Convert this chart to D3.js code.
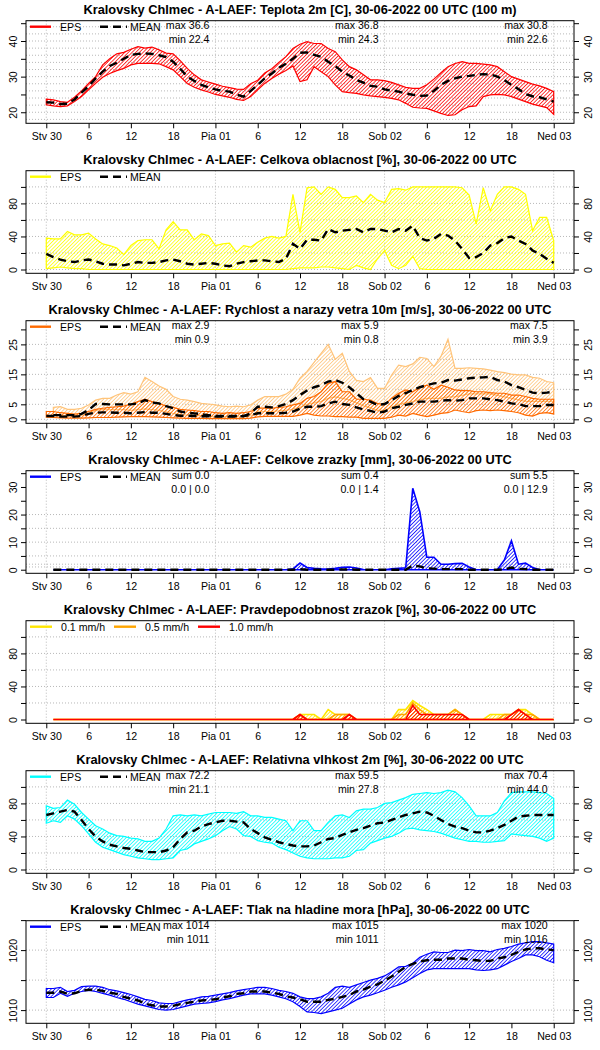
<!DOCTYPE html>
<html>
  <head>
    <meta charset="utf-8">
    <title>Kralovsky Chlmec - A-LAEF</title>
    <script src="https://cdn.jsdelivr.net/npm/d3@7"></script>
    <style>
      body { margin: 0; background: #fff; }
      svg { display: block; font-family: "Liberation Sans", Arial, Helvetica, sans-serif; }
      .title { font-weight: bold; font-size: 12.8px; }
      .lab { font-size: 10.6px; }
      .grid line { stroke: #b8b8b8; stroke-width: 1; stroke-dasharray: 1,2; }
    </style>
  </head>
  <body>
    <svg id="chart" width="600" height="1050"></svg>
    <script>
      // time axis (hours from run start 30-06-2022 00 UTC)
      const hours = d3.range(0, 73);
      const hoursAcc = d3.range(1, 73);
      const tickHours = [0, 6, 12, 18, 24, 30, 36, 42, 48, 54, 60, 66, 72];
      const tickLabels = ["Stv 30", "6", "12", "18", "Pia 01", "6", "12", "18", "Sob 02", "6", "12", "18", "Ned 03"];
      const dayHours = [0, 24, 48, 72];
      const statHours = [24, 48, 72];

      const titles = [
        "Kralovsky Chlmec - A-LAEF: Teplota 2m [C], 30-06-2022 00 UTC (100 m)",
        "Kralovsky Chlmec - A-LAEF: Celkova oblacnost [%], 30-06-2022 00 UTC",
        "Kralovsky Chlmec - A-LAEF: Rychlost a narazy vetra 10m [m/s], 30-06-2022 00 UTC",
        "Kralovsky Chlmec - A-LAEF: Celkove zrazky [mm], 30-06-2022 00 UTC",
        "Kralovsky Chlmec - A-LAEF: Pravdepodobnost zrazok [%], 30-06-2022 00 UTC",
        "Kralovsky Chlmec - A-LAEF: Relativna vlhkost 2m [%], 30-06-2022 00 UTC",
        "Kralovsky Chlmec - A-LAEF: Tlak na hladine mora [hPa], 30-06-2022 00 UTC"
      ];

      // temperature 2m
      const tempMax = [23.7,23.5,23.0,22.8,24.2,26.0,28.1,30.0,33.3,35.0, 36.4,36.8,37.7,38.4,38.0,38.3,37.5,36.6,36.4,34.5,
        32.3,30.5,29.1,28.5,27.9,27.3,26.9,26.5,26.4,28.0, 29.0,31.0,32.2,34.0,35.6,37.9,39.1,39.8,39.3,39.3,
        37.9,37.0,34.7,32.8,31.9,30.5,29.1,29.1,28.9,28.4, 27.7,27.0,26.7,26.7,27.7,29.3,31.1,32.8,33.7,34.2,
        33.7,33.7,33.5,33.3,32.8,31.4,30.0,29.3,28.6,27.9, 27.4,26.7,25.8];
      const tempMin = [22.1,21.8,21.6,21.8,23.0,24.4,26.3,28.1,29.8,30.9, 31.7,32.3,33.3,33.7,33.7,33.7,33.6,32.8,31.9,30.0,
        28.1,27.0,26.3,25.7,25.0,24.6,24.2,23.6,23.3,24.4, 26.3,28.1,29.5,30.7,31.7,33.0,28.6,29.1,32.8,31.4,
        30.0,27.7,25.8,25.5,25.3,24.9,24.6,24.4,24.2,23.9, 23.5,22.5,21.4,21.2,21.1,20.4,19.7,19.1,19.3,20.7,
        21.6,21.8,24.4,24.9,25.0,24.9,24.4,23.7,23.0,22.3, 21.8,21.3,19.4];
      const tempMean = [22.8,22.7,22.3,22.4,23.6,25.5,27.3,29.5,31.4,33.0, 33.9,35.0,36.1,36.4,36.5,36.4,36.0,35.5,34.2,32.2,
        30.0,28.8,27.7,27.0,26.4,26.0,25.8,25.0,24.4,26.0, 27.7,29.5,30.9,32.5,33.6,35.0,36.7,36.8,36.1,35.6,
        34.2,33.0,31.4,30.3,29.1,28.3,27.4,27.2,26.4,26.1, 25.8,25.3,24.9,24.6,24.7,26.0,27.7,28.8,29.5,30.0,
        30.2,30.5,30.7,30.6,30.0,29.0,27.7,26.5,25.1,24.5, 24.2,23.6,23.0];
      const tempStats = [["max 36.6", "min 22.4"], ["max 36.8", "min 24.3"], ["max 30.8", "min 22.6"]];

      // total cloud cover
      const cloudMax = [38,37,37,46,42,42,44,37,31,29, 26,18,29,35,36,36,25,48,58,48,
        48,36,43,41,29,31,32,21,29,27, 33,38,40,38,40,91,45,99,100,91,
        100,97,87,87,89,81,91,84,81,97, 98,96,100,100,100,100,100,100,100,99,
        90,55,99,71,91,100,100,97,91,47, 63,63,35];
      const cloudMin = [1,2,3,2,1,1,0,0,0,0, 0,0,0,0,0,0,0,0,0,0,
        0,0,0,0,0,0,0,0,0,0, 0,0,0,0,0,1,2,2,2,3,
        3,2,1,0,5,2,0,13,23,5, 1,5,16,1,0,0,0,0,0,0,
        0,0,0,0,0,0,0,0,0,0, 0,0,0];
      const cloudMean = [19,15,12,10,9,11,12,10,7,6, 6,5,7,9,8,8,9,11,12,10,
        7,6,7,8,7,5,4,7,9,10, 11,11,10,9,13,31,25,36,36,35,
        49,45,47,48,49,45,49,49,47,45, 49,47,53,38,35,37,43,41,35,25,
        14,15,20,29,32,38,40,35,31,23, 19,13,8];

      // wind speed 10m
      const windMax = [2.6,2.6,2.2,2.0,1.7,2.0,2.6,3.3,3.7,4.0, 4.2,4.4,5.1,5.9,6.7,5.9,5.3,4.4,4.0,3.3,
        3.1,2.9,2.6,2.6,2.2,2.0,2.2,2.0,2.2,2.6, 3.7,3.7,3.7,4.0,4.2,4.8,5.3,7.0,7.6,9.2,
        12.0,12.6,9.2,9.2,6.7,6.7,6.4,5.3,4.8,7.0, 8.7,9.8,9.2,10.7,11.4,10.0,11.4,10.7,9.8,9.6,
        9.6,9.2,9.2,8.9,8.7,8.7,8.1,8.1,7.6,7.0, 6.7,6.7,6.7];
      const windMin = [0.7,0.6,0.5,0.4,0.4,0.4,0.5,0.6,0.6,0.6, 0.7,0.8,0.9,0.9,0.9,0.8,0.7,0.6,0.5,0.4,
        0.3,0.3,0.3,0.2,0.2,0.2,0.2,0.2,0.2,0.4, 0.8,1.0,1.0,1.0,1.0,1.0,1.4,2.0,1.4,1.1,
        1.1,0.9,0.9,0.7,0.7,0.3,0.3,0.3,0.3,0.7, 1.4,1.1,2.0,1.4,0.9,1.4,2.0,2.2,3.1,2.6,
        2.2,2.9,3.1,2.9,3.1,2.9,2.6,2.2,1.4,1.1, 2.0,2.2,1.8];
      const windMean = [1.1,1.1,0.9,0.9,0.9,1.1,1.8,2.2,2.3,2.3, 2.2,2.2,2.0,2.2,2.4,2.2,2.2,1.8,1.4,1.2,
        1.2,1.1,1.0,1.0,0.9,0.9,0.9,0.9,1.1,1.4, 2.0,2.0,2.0,2.0,2.2,2.6,3.5,4.2,4.2,4.4,
        5.3,5.9,5.1,4.8,4.0,3.3,2.8,2.2,2.6,3.7, 4.2,4.8,5.3,5.9,5.9,5.9,6.2,6.4,6.2,6.4,
        7.0,7.0,7.0,6.7,6.4,5.9,5.3,5.1,4.4,4.4, 4.4,4.8,4.8];
      // wind gusts (from +1h)
      const gustMax = [4.0,4.2,3.3,3.3,3.7,4.8,6.4,7.0,7.0,8.1, 8.9,8.4,9.2,14.0,12.6,11.1,10.0,7.6,6.7,6.4,
        5.9,5.3,5.1,4.8,4.4,4.2,4.4,4.2,4.8,6.4, 7.6,7.6,7.6,8.4,10.0,13.7,16.0,19.0,22.0,25.0,
        20.0,22.0,16.0,13.0,12.6,13.9,10.3,10.3,14.8,18.1, 17.6,18.5,20.7,20.3,17.6,21.0,26.7,17.0,17.0,17.2,
        17.0,16.8,16.4,15.9,15.6,15.1,14.8,14.8,14.0,13.7, 12.6,12.2];
      const gustMin = [1.2,1.2,1.2,1.2,1.3,2.0,3.0,3.2,3.2,3.2, 3.2,3.0,3.2,3.5,3.2,3.0,2.5,2.0,1.6,1.4,
        1.3,1.2,1.0,0.8,0.8,0.8,0.8,0.8,1.2,2.5, 2.6,2.6,2.8,3.0,3.4,4.0,5.0,5.5,6.0,7.0,
        7.5,7.0,6.5,5.5,4.5,3.8,3.0,3.0,4.0,5.0, 5.5,6.0,6.5,7.0,7.0,7.0,7.5,7.5,8.0,8.5,
        8.5,8.5,8.5,8.0,7.5,7.0,6.5,6.0,6.0,6.0, 6.0,6.0];
      const gustMean = [1.4,1.4,1.4,1.4,1.8,3.1,5.1,5.1,5.0,5.0, 5.0,5.0,5.3,6.4,5.6,5.3,4.4,3.7,2.6,2.2,
        2.0,1.7,1.4,1.1,1.1,1.1,1.1,1.1,2.0,4.2, 4.2,4.0,4.4,5.1,6.4,8.1,9.6,10.7,11.4,12.6,
        13.1,12.2,10.7,8.7,6.7,5.9,4.8,5.1,6.4,7.8, 8.7,9.8,10.7,11.4,12.0,12.2,13.1,12.9,13.3,13.7,
        13.9,14.0,14.2,13.1,12.6,11.4,10.7,9.8,8.9,8.7, 8.9,9.2];
      const windStats = [["max 2.9", "min 0.9"], ["max 5.9", "min 0.8"], ["max 7.5", "min 3.9"]];

      // hourly precipitation (from +1h)
      const precipMax = [0,0,0,0,0,0,0,0,0,0, 0,0,0,0,0,0,0,0,0,0,
        0,0,0,0,0,0,0,0,0,0, 0,0,0,0,0.3,2.4,0.8,0.5,0.3,0.2,
        0.5,0.9,1.0,0.6,0.1,0,0,0,0.3,0.5, 0.7,29.5,21.0,4.5,4.5,2.0,2.0,2.2,2.3,1.0,
        0,0,0,0,3.5,10.5,2.0,2.4,0.8,0, 0,0];
      const precipMean = [0,0,0,0,0,0,0,0,0,0, 0,0,0,0,0,0,0,0,0,0,
        0,0,0,0,0,0,0,0,0,0, 0,0,0,0,0,0.2,0,0,0,0,
        0,0.1,0.1,0,0,0,0,0,0,0, 0,1.5,1.2,0.5,0.4,0.2,0.2,0.2,0.2,0,
        0,0,0,0,0.1,0.8,0.3,0.2,0,0, 0,0];
      const precipStats = [["sum 0.0", "0.0 | 0.0"], ["sum 0.4", "0.0 | 1.4"], ["sum 5.5", "0.0 | 12.9"]];

      // probability of precipitation (from +1h)
      const prob01 = [0,0,0,0,0,0,0,0,0,0, 0,0,0,0,0,0,0,0,0,0,
        0,0,0,0,0,0,0,0,0,0, 0,0,0,0,0,6,6,6,0,12,
        6,6,6,0,0,0,0,0,0,12, 12,23,17,12,6,6,6,12,6,0,
        0,0,6,6,6,6,12,12,6,0, 0,0];
      const prob05 = [0,0,0,0,0,0,0,0,0,0, 0,0,0,0,0,0,0,0,0,0,
        0,0,0,0,0,0,0,0,0,0, 0,0,0,0,0,6,0,0,0,0,
        6,6,6,0,0,0,0,0,0,6, 6,20,12,6,6,6,6,12,6,0,
        0,0,0,0,6,6,12,6,6,0, 0,0];
      const prob10 = [0,0,0,0,0,0,0,0,0,0, 0,0,0,0,0,0,0,0,0,0,
        0,0,0,0,0,0,0,0,0,0, 0,0,0,0,0,6,0,0,0,0,
        0,0,6,0,0,0,0,0,0,0, 0,17,6,6,6,6,6,6,6,0,
        0,0,0,0,0,6,12,6,0,0, 0,0];

      // relative humidity 2m
      const rhMax = [77,74,75,84,79,69,61,53,49,44, 41,40,38,37,34,34,38,49,65,66,
        65,66,65,67,69,69,69,68,70,65, 65,63,63,61,59,47,59,59,47,47,
        57,65,66,63,71,73,73,75,80,81, 84,87,91,92,93,92,93,96,94,87,
        77,65,65,65,69,83,93,94,94,94, 93,92,86];
      const rhMin = [56,59,57,65,61,53,43,33,27,24, 21,18,16,14,13,12,12,13,14,23,
        25,31,34,37,41,47,52,49,41,40, 35,33,32,27,24,20,16,14,13,13,
        13,14,14,16,23,24,32,35,38,40, 44,49,50,48,47,46,44,41,38,36,
        34,34,33,33,34,35,43,42,41,40, 38,34,38];
      const rhMean = [66,68,70,72,70,60,49,40,34,30, 28,26,25,23,21,21,21,23,27,37,
        45,47,52,55,57,59,59,58,57,49, 44,39,36,33,31,29,28,28,29,33,
        37,38,42,45,48,50,53,56,57,60, 63,66,68,70,69,65,60,55,52,50,
        47,45,45,47,50,54,59,64,65,66, 66,66,66];
      const rhStats = [["max 72.2", "min 21.1"], ["max 59.5", "min 27.8"], ["max 70.4", "min 44.0"]];

      // mean sea level pressure
      const presMax = [1013.6,1013.6,1013.8,1013.1,1013.3,1013.9,1014.0,1014.0,1013.8,1013.4,
        1013.2,1012.9,1012.6,1012.2,1011.8,1011.6,1011.2,1011.1,1011.1,1011.4,
        1011.7,1011.9,1012.2,1012.3,1012.5,1012.7,1012.9,1013.2,1013.4,1013.6,
        1013.8,1013.8,1013.6,1013.3,1013.1,1012.8,1012.2,1011.9,1011.9,1012.2,
        1012.8,1013.8,1014.0,1013.8,1014.2,1014.6,1015.0,1015.3,1015.7,1016.4,
        1017.2,1017.3,1017.8,1018.8,1019.3,1019.7,1019.6,1019.6,1020.0,1019.9,
        1020.1,1019.9,1019.9,1019.7,1020.1,1020.3,1020.6,1021.0,1021.2,1021.4,
        1021.4,1021.2,1021.0];
      const presMin = [1012.1,1012.1,1012.8,1012.3,1012.8,1013.1,1013.3,1013.1,1012.8,1012.5,
        1012.1,1011.8,1011.4,1011.0,1010.7,1010.4,1010.1,1010.0,1010.1,1010.4,
        1010.7,1011.0,1011.1,1011.2,1011.4,1011.7,1011.9,1012.2,1012.5,1012.7,
        1012.7,1012.7,1012.5,1012.2,1011.9,1011.4,1010.6,1009.7,1009.6,1009.4,
        1009.7,1010.0,1010.3,1011.0,1011.7,1012.2,1012.5,1012.9,1013.3,1013.8,
        1014.2,1014.7,1015.4,1016.1,1016.7,1016.9,1016.9,1016.9,1016.9,1016.9,
        1016.9,1016.7,1016.6,1016.7,1016.9,1017.5,1018.1,1018.6,1019.2,1019.2,
        1018.9,1018.3,1017.9];
      const presMean = [1012.9,1012.9,1013.1,1012.7,1012.8,1013.2,1013.4,1013.4,1013.2,1012.9,
        1012.7,1012.2,1011.9,1011.6,1011.1,1010.8,1010.6,1010.6,1010.7,1011.0,
        1011.2,1011.4,1011.6,1011.7,1011.8,1012.1,1012.3,1012.7,1012.8,1013.1,
        1013.1,1013.1,1012.9,1012.7,1012.3,1012.1,1011.8,1011.4,1011.4,1011.4,
        1011.7,1011.9,1012.2,1012.5,1013.1,1013.4,1013.9,1014.3,1014.9,1015.6,
        1016.4,1017.2,1017.7,1018.1,1018.3,1018.4,1018.4,1018.6,1018.6,1018.6,
        1018.4,1018.3,1018.2,1018.2,1018.6,1018.8,1019.2,1019.7,1020.1,1020.3,
        1020.3,1020.1,1020.0];
      const presStats = [["max 1014", "min 1011"], ["max 1015", "min 1011"], ["max 1020", "min 1016"]];

      // colours
      const red = "#ff0000", yellow = "#ffff00", orange = "#ff6a00", lightOrange = "#ffc47a",
        blue = "#0000ff", cyan = "#00ffff", probYellow = "#ffe600", probOrange = "#ffa500";

      // panel settings
      const panels = [
        { title: titles[0], yDomain: [16.9, 45.7], yTicks: [20, 25, 30, 35, 40, 45], yLabels: [20, 30, 40],
          grid: [18, 20, 22, 24, 26, 28, 30, 32, 34, 36, 38, 40, 42, 44],
          bands: [{ x: hours, lo: tempMin, hi: tempMax, color: red }],
          means: [{ x: hours, v: tempMean }],
          legend: [["EPS", red, false], ["MEAN", "#000", true]], stats: tempStats },
        { title: titles[1], yDomain: [-4.6, 119.6], yTicks: [0, 20, 40, 60, 80, 100], yLabels: [0, 40, 80],
          grid: [0, 20, 40, 60, 80, 100],
          bands: [{ x: hours, lo: cloudMin, hi: cloudMax, color: yellow }],
          means: [{ x: hours, v: cloudMean }],
          legend: [["EPS", yellow, false], ["MEAN", "#000", true]], stats: null },
        { title: titles[2], yDomain: [-1.33, 32.9], yTicks: [0, 5, 10, 15, 20, 25, 30], yLabels: [0, 5, 15, 25],
          grid: [0, 5, 10, 15, 20, 25],
          bands: [{ x: hoursAcc, lo: gustMin, hi: gustMax, color: lightOrange },
                  { x: hours, lo: windMin, hi: windMax, color: orange }],
          means: [{ x: hoursAcc, v: gustMean }, { x: hours, v: windMean }],
          legend: [["EPS", orange, false], ["MEAN", "#000", true]], stats: windStats },
        { title: titles[3], yDomain: [-1.3, 35.9], yTicks: [0, 5, 10, 15, 20, 25, 30, 35], yLabels: [0, 10, 20, 30],
          grid: [1, 2, 5, 10, 15, 20],
          bands: [{ x: hoursAcc, lo: null, hi: precipMax, color: blue }],
          means: [{ x: hoursAcc, v: precipMean }],
          legend: [["EPS", blue, false], ["MEAN", "#000", true]], stats: precipStats },
        { title: titles[4], yDomain: [-4.6, 119.6], yTicks: [0, 20, 40, 60, 80, 100], yLabels: [0, 40, 80],
          grid: [20, 40, 60, 80, 100],
          bands: [{ x: hoursAcc, lo: null, hi: prob01, color: probYellow },
                  { x: hoursAcc, lo: null, hi: prob05, color: probOrange },
                  { x: hoursAcc, lo: null, hi: prob10, color: red }],
          means: [],
          legend: [["0.1 mm/h", probYellow, false], ["0.5 mm/h", probOrange, false], ["1.0 mm/h", red, false]], stats: null },
        { title: titles[5], yDomain: [-4.6, 119.6], yTicks: [0, 20, 40, 60, 80, 100], yLabels: [0, 40, 80],
          grid: [0, 20, 40, 60, 80, 100],
          bands: [{ x: hours, lo: rhMin, hi: rhMax, color: cyan }],
          means: [{ x: hours, v: rhMean }],
          legend: [["EPS", cyan, false], ["MEAN", "#000", true]], stats: rhStats },
        { title: titles[6], yDomain: [1007.8, 1024.9], yTicks: [1010, 1015, 1020, 1025], yLabels: [1010, 1020],
          grid: [1010, 1015, 1020],
          bands: [{ x: hours, lo: presMin, hi: presMax, color: blue }],
          means: [{ x: hours, v: presMean }],
          legend: [["EPS", blue, false], ["MEAN", "#000", true]], stats: presStats }
      ];

      // layout
      const panelHeight = 150;
      const box = { left: 26, right: 574, top: 20.7, bottom: 123.3 };
      const chart = d3.select("#chart");
      const defs = chart.append("defs");
      const x = d3.scaleLinear().domain([-2.88, 74.88]).range([box.left, box.right]);

      function hatch(color) {
        const id = "hatch" + color.replace("#", "");
        if (defs.select("#" + id).empty()) {
          const p = defs.append("pattern")
            .attr("id", id)
            .attr("patternUnits", "userSpaceOnUse")
            .attr("width", 2.6)
            .attr("height", 2.6)
            .attr("patternTransform", "rotate(45)");
          p.append("line")
            .attr("x1", 0).attr("y1", -1).attr("x2", 0).attr("y2", 4)
            .attr("stroke", color)
            .attr("stroke-width", 1.5);
        }
        return "url(#" + id + ")";
      }

      panels.forEach(function(p, k) {
        const g = chart.append("g").attr("transform", "translate(0," + (k * panelHeight) + ")");
        const y = d3.scaleLinear().domain(p.yDomain).range([box.bottom, box.top]);

        // dotted grid
        const grid = g.append("g").attr("class", "grid");
        grid.selectAll(".h").data(p.grid).enter().append("line")
          .attr("x1", box.left).attr("x2", box.right)
          .attr("y1", function(d) { return y(d); })
          .attr("y2", function(d) { return y(d); });
        grid.selectAll(".v").data(dayHours).enter().append("line")
          .attr("x1", function(d) { return x(d); })
          .attr("x2", function(d) { return x(d); })
          .attr("y1", box.top).attr("y2", box.bottom);

        // ensemble bands
        p.bands.forEach(function(b) {
          const area = d3.area()
            .x(function(d, i) { return x(b.x[i]); })
            .y0(function(d, i) { return y(b.lo ? b.lo[i] : 0); })
            .y1(function(d) { return y(d); });
          g.append("path")
            .datum(b.hi)
            .attr("d", area)
            .attr("fill", hatch(b.color))
            .attr("stroke", b.color)
            .attr("stroke-width", b.lo ? 1.2 : 1.6);
        });

        // ensemble means
        p.means.forEach(function(m) {
          const line = d3.line()
            .x(function(d, i) { return x(m.x[i]); })
            .y(function(d) { return y(d); });
          g.append("path")
            .datum(m.v)
            .attr("d", line)
            .attr("fill", "none")
            .attr("stroke", "#000")
            .attr("stroke-width", 2.4)
            .attr("stroke-dasharray", "8,5");
        });

        // box
        g.append("rect")
          .attr("x", box.left).attr("y", box.top)
          .attr("width", box.right - box.left).attr("height", box.bottom - box.top)
          .attr("fill", "none").attr("stroke", "#000").attr("stroke-width", 1);

        // axes
        const xAxis = d3.axisBottom(x)
          .tickValues(tickHours)
          .tickFormat(function(d, i) { return tickLabels[i]; })
          .tickSize(5)
          .tickPadding(4.5);
        g.append("g")
          .attr("transform", "translate(0," + box.bottom + ")")
          .call(xAxis)
          .call(function(a) { a.select(".domain").remove(); })
          .attr("font-size", null).attr("font-family", null)
          .selectAll("text").attr("class", "lab");

        const yFormat = function(d) { return p.yLabels.indexOf(d) >= 0 ? d : ""; };
        [[d3.axisLeft(y), box.left, -8.6], [d3.axisRight(y), box.right, 18]].forEach(function(s) {
          g.append("g")
            .attr("transform", "translate(" + s[1] + ",0)")
            .call(s[0].tickValues(p.yTicks).tickFormat(yFormat).tickSize(5))
            .call(function(a) { a.select(".domain").remove(); })
            .attr("font-size", null).attr("font-family", null)
            .selectAll("text")
              .attr("class", "lab")
              .attr("x", 0)
              .attr("dy", null)
              .attr("text-anchor", "middle")
              .attr("transform", "translate(" + s[2] + ",0) rotate(-90)");
        });

        // title
        g.append("text")
          .attr("class", "title")
          .attr("x", 300)
          .attr("y", 14.3)
          .attr("text-anchor", "middle")
          .text(p.title);

        // legend
        const legendX = p.legend.length === 3 ? [30, 114, 198] : [30, 100];
        const legendLen = p.legend.length === 3 ? 22 : 21;
        p.legend.forEach(function(l, i) {
          const lx = legendX[i];
          const len = l[2] ? 27 : legendLen;
          g.append("line")
            .attr("x1", lx).attr("x2", lx + len)
            .attr("y1", 26.7).attr("y2", 26.7)
            .attr("stroke", l[1])
            .attr("stroke-width", 2.4)
            .attr("stroke-dasharray", l[2] ? "8,5" : null);
          g.append("text")
            .attr("class", "lab")
            .attr("x", lx + len + (l[2] ? 3 : 9))
            .attr("y", 30.6)
            .text(l[0]);
        });

        // daily statistics
        if (p.stats) {
          p.stats.forEach(function(s, i) {
            g.append("text").attr("class", "lab")
              .attr("x", x(statHours[i]) - 6).attr("y", 29.4)
              .attr("text-anchor", "end").text(s[0]);
            g.append("text").attr("class", "lab")
              .attr("x", x(statHours[i]) - 6).attr("y", 42.8)
              .attr("text-anchor", "end").text(s[1]);
          });
        }
      });
    </script>
  </body>
</html>
